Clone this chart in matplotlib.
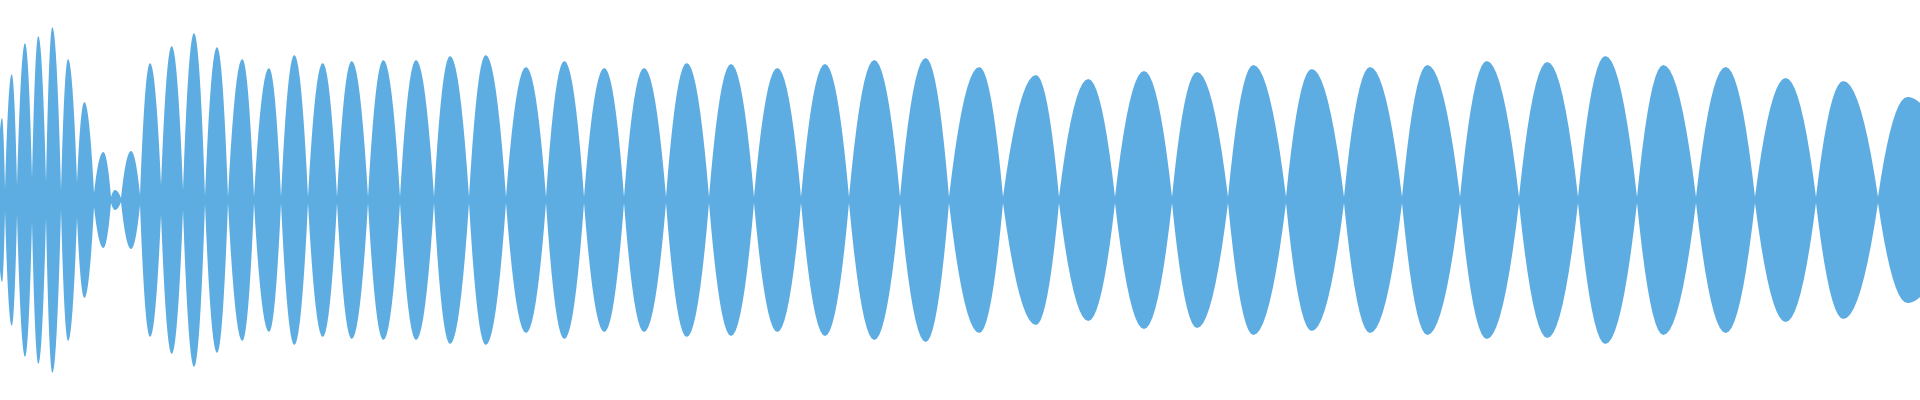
import numpy as np
import matplotlib
matplotlib.use('Agg')
import matplotlib.pyplot as plt

# node positions (narrow waists) along the x axis, in samples
nodes = [0, 5, 17, 32, 46, 61, 77, 94, 111, 121, 140, 161, 183, 205, 228, 254,
         281, 308, 337, 368, 400, 434, 469, 506, 546, 584, 624, 666, 709, 754,
         801, 849, 900, 949, 1003, 1059, 1115, 1172, 1228, 1286, 1344, 1402,
         1460, 1519, 1578, 1637, 1696, 1755, 1816, 1878, 1920]

# amplitude left at each waist
waist = [70, 11, 15, 22, 18, 10, 18, 7, 3, 2, 5, 15, 10, 4, 3, 3,
         3, 3, 3, 3, 3, 3, 3, 3, 3, 3, 3, 3, 3, 3,
         3, 3, 3, 3, 3, 3, 3, 3, 3, 3, 3, 3,
         3, 3, 3, 3, 3, 3, 3, 3, 97]

# peak of every lobe: position and amplitude
peak_x = [2, 11.7, 25, 38.3, 52.3, 68, 84.3, 103.3, 115, 131,
          150, 171.7, 194, 217, 242.3, 269, 294.3, 322.7, 351.7, 383.3,
          416, 450, 485.7, 526, 564.3, 604.3, 644, 686.7, 731, 777.3,
          825, 874.3, 925.7, 979.3, 1036, 1088.3, 1144, 1197, 1253.3, 1311.7,
          1370, 1427.3, 1486.7, 1547.3, 1605.3, 1663.3, 1725.7, 1785.7, 1843.3, 1907.3]
peak_amp = [82, 126, 157, 164, 173, 141, 98, 48, 10, 49,
            137, 154, 167, 153, 141, 132, 145, 137, 139, 140,
            140, 144, 145, 133, 139, 132, 132, 137, 136, 132,
            136, 140, 142, 133, 125, 121, 129, 128, 135, 131,
            133, 135, 139, 138, 144, 135, 133, 122, 119, 103]

# shape of half a lobe (waist -> peak), measured on one lobe of the picture
prof_t = [0, 0.1, 0.2, 0.3, 0.4, 0.5, 0.6, 0.7, 0.8, 0.9, 1.0]
prof_h = [0, 0.19, 0.36, 0.51, 0.64, 0.75, 0.84, 0.91, 0.96, 0.99, 1.0]

prof_t = np.array(prof_t)
prof_h = np.array(prof_h)

xs = []
amps = []
for i in range(len(peak_x)):
    x0, x1 = nodes[i], nodes[i + 1]
    w0, w1 = waist[i], waist[i + 1]
    px, pa = peak_x[i], peak_amp[i]
    # rising half
    xs.extend(x0 + (px - x0) * prof_t)
    amps.extend(w0 + (pa - w0) * prof_h)
    # falling half
    t_down = prof_t[::-1][1:]
    h_down = prof_h[::-1][1:]
    xs.extend(x1 - (x1 - px) * t_down)
    amps.extend(w1 + (pa - w1) * h_down)

xs = np.array(xs)
amps = np.array(amps)

fig = plt.figure(figsize=(19.2, 4), dpi=100)
ax = fig.add_axes([0, 0, 1, 1])
ax.fill_between(xs, -amps, amps, color='#5dade2', linewidth=0)
ax.set_xlim(0, 1920)
ax.set_ylim(-200, 200)
ax.axis('off')
fig.savefig('out.png', dpi=100)
